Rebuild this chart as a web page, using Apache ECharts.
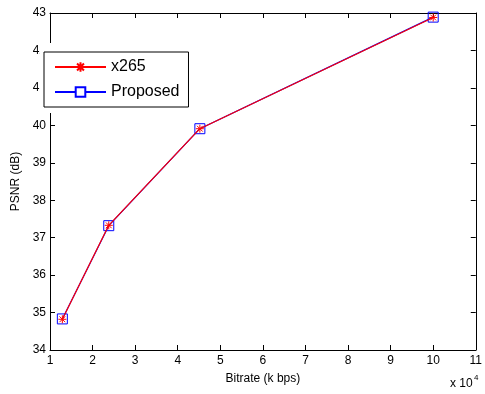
<!DOCTYPE html>
<html>
<head>
<meta charset="utf-8">
<script src="https://cdn.jsdelivr.net/npm/echarts@6/dist/echarts.min.js"></script>
<style>
  html, body { margin: 0; padding: 0; background: #fff; }
  #main { width: 485px; height: 394px; }
</style>
</head>
<body>
<div id="main"></div>
<script>
// bitrate in units of 10^4 k bps
var bitrate = [1.29, 2.38, 4.52, 10.0]
var x265 = [34.82, 37.33, 39.91, 42.88]
var proposed = [34.83, 37.32, 39.91, 42.89]
var xTicks = [1, 11, 1]   // min, max, interval
var yTicks = [34, 43, 1]

var font = 'Liberation Sans, Arial, sans-serif'
var star = 'path://M0,-5L0,5M-5,0L5,0M-3.6,-3.6L3.6,3.6M-3.6,3.6L3.6,-3.6'

function pairs(xs, ys) {
    return xs.map(function (x, i) { return [x, ys[i]] })
}

var echart = echarts.init(document.getElementById('main'))

var tickStyle = { inside: true, length: 5, lineStyle: { color: '#000' } }
var lineStyle = { lineStyle: { color: '#000', width: 1 } }

let option = {
    animation: false,
    backgroundColor: '#fff',
    textStyle: { fontFamily: font },
    grid: { left: 50, right: 6, top: 13, bottom: 44 },
    legend: {
        orient: 'vertical',
        left: 44,
        top: 52,
        backgroundColor: '#fff',
        borderColor: '#000',
        borderWidth: 1,
        borderRadius: 0,
        padding: [7, 9, 7, 10],
        itemWidth: 51,
        itemHeight: 12,
        itemGap: 9,
        z: 200,
        textStyle: { fontSize: 16, color: '#000', fontFamily: font, lineHeight: 16 },
        data: [
            { name: 'x265' },
            { name: 'Proposed', itemStyle: { color: '#fff' } }
        ]
    },
    xAxis: [{
        type: 'value',
        min: xTicks[0], max: xTicks[1], interval: xTicks[2],
        name: 'Bitrate (k bps)',
        nameLocation: 'middle',
        nameGap: 23,
        nameTextStyle: { fontSize: 12, color: '#000' },
        axisLine: lineStyle,
        axisTick: tickStyle,
        splitLine: { show: false },
        axisLabel: { fontSize: 12, color: '#000', margin: 5 }
    }, {
        type: 'value', position: 'top',
        min: xTicks[0], max: xTicks[1], interval: xTicks[2],
        axisLine: lineStyle,
        axisTick: tickStyle,
        splitLine: { show: false },
        axisLabel: { show: false }
    }],
    yAxis: [{
        type: 'value',
        min: yTicks[0], max: yTicks[1], interval: yTicks[2],
        name: 'PSNR (dB)',
        nameLocation: 'middle',
        nameGap: 25,
        nameTextStyle: { fontSize: 12, color: '#000' },
        axisLine: lineStyle,
        axisTick: tickStyle,
        splitLine: { show: false },
        axisLabel: { fontSize: 12, color: '#000', margin: 4 }
    }, {
        type: 'value', position: 'right',
        min: yTicks[0], max: yTicks[1], interval: yTicks[2],
        axisLine: lineStyle,
        axisTick: tickStyle,
        splitLine: { show: false },
        axisLabel: { show: false }
    }],
    graphic: [{
        // white margin round the legend box, hides the label digits under it
        type: 'rect',
        left: 40, top: 43, z: 100,
        shape: { width: 153, height: 70 },
        style: { fill: '#fff' }
    }, {
        type: 'text',
        left: 450, top: 378,
        style: { text: 'x 10', fontSize: 12, fill: '#000', fontFamily: font }
    }, {
        type: 'text',
        left: 474, top: 374,
        style: { text: '4', fontSize: 8, fill: '#000', fontFamily: font }
    }],
    series: [{
        name: 'x265',
        type: 'line',
        data: pairs(bitrate, x265),
        symbol: star,
        symbolSize: 8,
        showAllSymbol: true,
        itemStyle: { color: '#f00', borderColor: '#f00', borderWidth: 1 },
        lineStyle: { color: '#f00', width: 1.2 },
        z: 3
    }, {
        name: 'Proposed',
        type: 'line',
        data: pairs(bitrate, proposed),
        symbol: 'rect',
        symbolSize: 10,
        itemStyle: { color: 'rgba(0,0,0,0)', borderColor: '#00f', borderWidth: 1 },
        lineStyle: { color: '#00f', width: 1.2 },
        z: 2
    }]
}
echart.setOption(option)
</script>
</body>
</html>
